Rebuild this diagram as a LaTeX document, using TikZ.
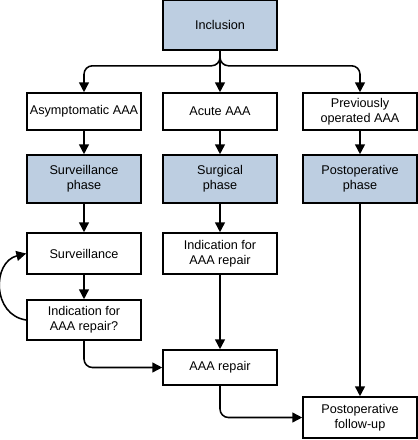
\documentclass[tikz,border=0pt]{standalone}
\usepackage{fontspec}
\setmainfont{Liberation Sans}
\usetikzlibrary{arrows.meta}
\definecolor{phaseblue}{RGB}{189,206,225}

\tikzset{
  stage/.style={draw, line width=1.1pt, minimum width=2.85cm, align=center,
    inner sep=1pt, font=\fontsize{9}{10.7}\selectfont},
  phase/.style={stage, fill=phaseblue},
  arr/.style={-{Triangle[length=7pt,width=7pt]}, line width=1.1pt, rounded corners=6pt}
}

\begin{document}
\begin{tikzpicture}[x=0.025cm,y=-0.025cm]
\useasboundingbox (0,0) rectangle (418,440);

% top
\node[phase, minimum height=1.25cm] (incl) at (220,25) {Inclusion};

% patient groups
\node[stage, minimum height=0.925cm] (asym) at (84,111.5) {Asymptomatic AAA};
\node[stage, minimum height=0.925cm] (acute) at (220,111.5) {Acute AAA};
\node[stage, minimum height=0.925cm] (prev) at (360,111.5) {Previously\\operated AAA};

% phases
\node[phase, minimum height=1.2cm] (survph) at (84,179) {Surveillance\\phase};
\node[phase, minimum height=1.2cm] (surgph) at (220,179) {Surgical\\phase};
\node[phase, minimum height=1.2cm] (postph) at (360,179) {Postoperative\\phase};

% lower steps
\node[stage, minimum height=1.025cm] (surv) at (84,253.5) {Surveillance};
\node[stage, minimum height=1.025cm] (indic) at (220,253.5) {Indication for\\AAA repair};
\node[stage, minimum height=1cm] (indicq) at (84,320) {Indication for\\AAA repair?};
\node[stage, minimum height=0.875cm] (repair) at (220,367.5) {AAA repair};
\node[stage, minimum height=1.025cm] (follow) at (360,417.5) {Postoperative\\follow-up};

% fork
\draw[arr] (incl.south) -- ++(0,15) -| (asym.north);
\draw[arr] (incl.south) -- (acute.north);
\draw[arr] (incl.south) -- ++(0,15) -| (prev.north);

% columns
\draw[arr] (asym) -- (survph);
\draw[arr] (acute) -- (surgph);
\draw[arr] (prev) -- (postph);
\draw[arr] (survph) -- (surv);
\draw[arr] (surgph) -- (indic);
\draw[arr] (surv) -- (indicq);
\draw[arr] (indic) -- (repair);
\draw[arr] (postph) -- (follow);

% loop back
\draw[arr] (indicq.west) .. controls (-8,315) and (-8,262) .. (surv.west);

% to repair and follow-up
\draw[arr] (indicq.south) |- (repair.west);
\draw[arr] (repair.south) |- (follow.west);

\end{tikzpicture}
\end{document}
